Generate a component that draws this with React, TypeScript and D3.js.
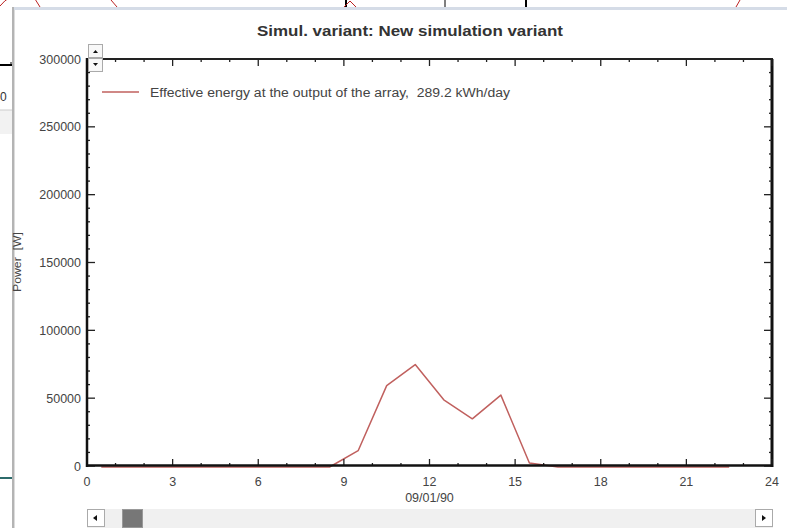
import React from "react";
import * as d3 from "d3";

const hours = [0.5, 1.5, 2.5, 3.5, 4.5, 5.5, 6.5, 7.5, 8.5, 9.5, 10.5, 11.5, 12.5, 13.5, 14.5, 15.5, 16.5, 17.5, 18.5, 19.5, 20.5, 21.5, 22.5];
const power = [0, 0, 0, 0, 0, 0, 0, 0, 0, 12000, 60000, 75500, 49500, 35500, 53000, 3000, 0, 0, 0, 0, 0, 0, 0];
const xTicks = [0, 3, 6, 9, 12, 15, 18, 21, 24];
const yTicks = [0, 50000, 100000, 150000, 200000, 250000, 300000];
const title = "Simul. variant: New simulation variant";
const seriesLabel = "Effective energy at the output of the array,  289.2 kWh/day";
const dateLabel = "09/01/90";
const yLabel = "Power  [W]";

const W = 787, H = 528;
const L = 87, R = 772, T = 59, B = 466;

export default function App() {
  const x = d3.scaleLinear().domain([0, 24]).range([L, R]);
  const y = d3.scaleLinear().domain([0, 300000]).range([B, T]);
  const line = d3.line<number>().x((_, i) => x(hours[i])).y((d) => y(d));
  const minorX = d3.range(0, 25, 1);
  const minorY = d3.range(0, 300001, 10000);
  const font = "'Liberation Sans', Arial, sans-serif";
  const txt = "#444";
  return (
    <div style={{ position: "fixed", left: 0, top: 0 }}>
      <svg width={W} height={H} style={{ display: "block", background: "#fff", whiteSpace: "pre" }} fontFamily={font}>
        {/* background outside the window */}
        <rect x={0} y={0} width={W} height={H} fill="#fff" />
        <line x1={346} y1={0} x2={346} y2={7} stroke="#000" strokeWidth={2} />
        <line x1={445} y1={0} x2={445} y2={7} stroke="#000" strokeWidth={1} />
        <line x1={526} y1={0} x2={526} y2={7} stroke="#000" strokeWidth={2} />
        <path d="M0,6 Q5,0 9,-2" fill="none" stroke="#b22" strokeWidth={1} />
        <path d="M35,-1 L40,7" fill="none" stroke="#b22" strokeWidth={1} />
        <path d="M111,0 L117,7" fill="none" stroke="#b22" strokeWidth={1} />
        <path d="M344,7 L350,1 L356,7" fill="none" stroke="#b22" strokeWidth={1} />
        <path d="M740,0 L736,7" fill="none" stroke="#b22" strokeWidth={1} />
        <line x1={0} y1={65} x2={12} y2={65} stroke="#000" strokeWidth={2} />
        <line x1={11} y1={62} x2={11} y2={65} stroke="#000" strokeWidth={1} />
        <text x={0} y={101} fontSize={12} fill="#333">0</text>
        <rect x={0} y={110} width={12} height={24} fill="#f2f2f2" />
        <line x1={0} y1={110} x2={12} y2={110} stroke="#ccc" />
        <line x1={0} y1={478} x2={12} y2={478} stroke="#2c6b6b" strokeWidth={2} />

        {/* window */}
        <rect x={12} y={7} width={W - 12} height={H - 7} fill="#fff" />
        <rect x={12} y={7} width={W - 12} height={3} fill="#d5dce7" />
        <rect x={12} y={7} width={2} height={H - 7} fill="#b4b4b4" />
        <rect x={14} y={10} width={1} height={H - 10} fill="#dcdcdc" />

        <text x={257} y={36} fontSize={15} fontWeight="bold" fill="#333" textLength={306} lengthAdjust="spacingAndGlyphs">{title}</text>

        {/* legend */}
        <line x1={102} y1={92} x2={139} y2={92} stroke="#c0605e" strokeWidth={1.5} />
        <text x={150} y={96.5} fontSize={12} fill={txt} textLength={360} lengthAdjust="spacingAndGlyphs" xmlSpace="preserve">{seriesLabel}</text>

        {/* data line */}
        <path d={line(power) || ""} fill="none" stroke="#c0605e" strokeWidth={1.5} strokeLinejoin="round" transform="translate(0,1)" />

        {/* frame top and right */}
        <line x1={L} y1={T} x2={R + 1} y2={T} stroke="#222" strokeWidth={2} />
        <line x1={R} y1={T} x2={R} y2={B + 1} stroke="#111" strokeWidth={3} />
        {/* ticks */}
        {minorX.map((h) => {
          const major = h % 3 === 0;
          const len = major ? 7 : 3;
          return (
            <g key={"xt" + h}>
              <line x1={x(h)} y1={B} x2={x(h)} y2={B - len} stroke="#222" strokeWidth={1.3} />
              <line x1={x(h)} y1={T} x2={x(h)} y2={T + len} stroke="#222" strokeWidth={1.3} />
            </g>
          );
        })}
        {minorY.map((v) => {
          const major = v % 50000 === 0;
          const len = major ? 8 : 3;
          return (
            <g key={"yt" + v}>
              <line x1={L} y1={y(v)} x2={L + len} y2={y(v)} stroke="#222" strokeWidth={1.3} />
              <line x1={R} y1={y(v)} x2={R - len} y2={y(v)} stroke="#222" strokeWidth={1.3} />
            </g>
          );
        })}
        {/* axes */}
        <line x1={L} y1={T - 1} x2={L} y2={B + 1} stroke="#111" strokeWidth={2.5} />
        <line x1={L - 1} y1={B - 0.5} x2={R + 1} y2={B - 0.5} stroke="#111" strokeWidth={2.5} />

        {/* tick labels */}
        {yTicks.map((v) => (
          <text key={"yl" + v} x={81} y={y(v) + 4.5} textAnchor="end" fontSize={12.5} fill={txt}>{d3.format("d")(v)}</text>
        ))}
        {xTicks.map((h) => (
          <text key={"xl" + h} x={x(h)} y={486} textAnchor="middle" fontSize={12.5} fill={txt}>{h}</text>
        ))}
        <text x={x(12)} y={501.5} textAnchor="middle" fontSize={12.5} fill={txt}>{dateLabel}</text>

        <text transform={`translate(21,262) rotate(-90)`} textAnchor="middle" fontSize={10} fill={txt} textLength={60} lengthAdjust="spacingAndGlyphs" xmlSpace="preserve">{yLabel}</text>

        {/* spinner buttons */}
        <rect x={88.5} y={44.5} width={14} height={13} fill="#f8f8f8" stroke="#aaa" />
        <path d="M93,53 L98,53 L95.5,50 Z" fill="#111" />
        <rect x={88.5} y={58.5} width={14} height={13} fill="#f8f8f8" stroke="#aaa" />
        <path d="M93,63 L98,63 L95.5,66 Z" fill="#111" />

        {/* scrollbar */}
        <rect x={87} y={509} width={686} height={19} fill="#f0f0f0" />
        <rect x={87.5} y={509.5} width={17} height={17} fill="#fff" stroke="#aaa" />
        <path d="M93,518 L97,515 L97,521 Z" fill="#111" />
        <rect x={122.5} y={509.5} width={20} height={18} fill="#777" stroke="#999" />
        <rect x={755.5} y={509.5} width={17} height={17} fill="#fff" stroke="#aaa" />
        <path d="M766,518 L762,515 L762,521 Z" fill="#111" />
      </svg>
    </div>
  );
}
